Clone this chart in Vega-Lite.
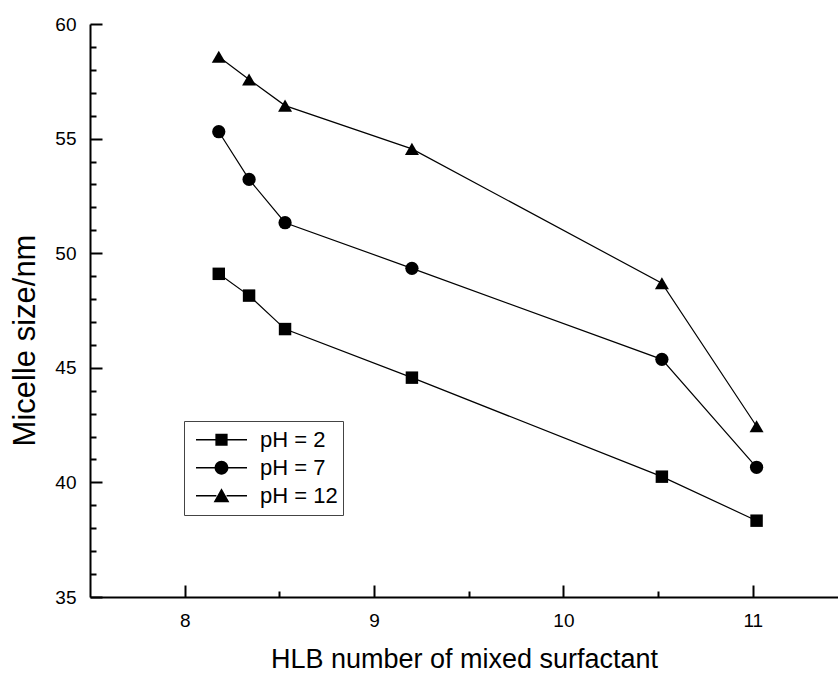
{
  "$schema": "https://vega.github.io/schema/vega-lite/v6.json",
  "width": 748,
  "height": 573,
  "autosize": {"type": "none"},
  "padding": {"left": 90, "top": 24, "right": 0, "bottom": 76},
  "background": "white",
  "config": {
    "view": {"stroke": null},
    "font": "Liberation Sans",
    "axis": {
      "grid": false,
      "ticks": true,
      "domainColor": "black",
      "domainWidth": 2,
      "tickColor": "black",
      "tickOpacity": 1,
      "tickWidth": 2,
      "labelColor": "black",
      "labelFontSize": 19,
      "labelFont": "Liberation Sans",
      "titleFont": "Liberation Sans",
      "titleFontSize": 27,
      "titleFontWeight": "normal",
      "titleColor": "black"
    }
  },
  "data": {
    "values": [
      {"series": "pH = 2", "x": 8.18, "y": 49.1},
      {"series": "pH = 2", "x": 8.34, "y": 48.15},
      {"series": "pH = 2", "x": 8.53, "y": 46.69},
      {"series": "pH = 2", "x": 9.2, "y": 44.57},
      {"series": "pH = 2", "x": 10.52, "y": 40.25},
      {"series": "pH = 2", "x": 11.02, "y": 38.33},
      {"series": "pH = 7", "x": 8.18, "y": 55.3},
      {"series": "pH = 7", "x": 8.34, "y": 53.22},
      {"series": "pH = 7", "x": 8.53, "y": 51.33},
      {"series": "pH = 7", "x": 9.2, "y": 49.34},
      {"series": "pH = 7", "x": 10.52, "y": 45.37},
      {"series": "pH = 7", "x": 11.02, "y": 40.66},
      {"series": "pH = 12", "x": 8.18, "y": 58.57},
      {"series": "pH = 12", "x": 8.34, "y": 57.58},
      {"series": "pH = 12", "x": 8.53, "y": 56.44},
      {"series": "pH = 12", "x": 9.2, "y": 54.55},
      {"series": "pH = 12", "x": 10.52, "y": 48.69},
      {"series": "pH = 12", "x": 11.02, "y": 42.45}
    ]
  },
  "layer": [
    {
      "mark": {"type": "line", "color": "black", "strokeWidth": 1.2},
      "encoding": {
        "x": {
          "field": "x", "type": "quantitative",
          "scale": {"domain": [7.5, 11.45], "nice": false, "zero": false},
          "axis": {
            "orient": "bottom",
            "title": "HLB number of mixed surfactant",
            "values": [8, 9, 10, 11],
            "format": "d",
            "ticks": true,
            "tickSize": -12,
            "labelPadding": 26,
            "labelFlush": false,
            "titleBaseline": "alphabetic",
            "titleY": 70
          }
        },
        "y": {
          "field": "y", "type": "quantitative",
          "scale": {"domain": [35, 60], "nice": false, "zero": false},
          "axis": {
            "orient": "left",
            "title": "Micelle size/nm",
            "titleFontSize": 31,
            "values": [35, 40, 45, 50, 55, 60],
            "ticks": true,
            "tickSize": -12,
            "labelPadding": 26,
            "labelFlush": false,
            "titleBaseline": "alphabetic",
            "titleX": -56,
            "titleY": 316
          }
        },
        "detail": {"field": "series"}
      }
    },
    {
      "mark": {"type": "point", "filled": true, "color": "black", "opacity": 1},
      "encoding": {
        "x": {"field": "x", "type": "quantitative", "axis": null},
        "y": {"field": "y", "type": "quantitative", "axis": null},
        "shape": {
          "field": "series", "type": "nominal",
          "scale": {"domain": ["pH = 2", "pH = 7", "pH = 12"], "range": ["square", "circle", "triangle-up"]},
          "legend": null
        },
        "size": {
          "field": "series", "type": "nominal",
          "scale": {"domain": ["pH = 2", "pH = 7", "pH = 12"], "range": [155, 196, 256]},
          "legend": null
        }
      }
    },
    {
      "transform": [{"filter": "datum.x < 0"}],
      "mark": {"type": "point", "filled": true, "color": "black", "opacity": 1},
      "encoding": {
        "x": {"field": "x", "type": "quantitative", "axis": null},
        "y": {"field": "y", "type": "quantitative", "axis": null},
        "shape": {
          "field": "series", "type": "nominal",
          "scale": {
            "domain": ["pH = 2", "pH = 7", "pH = 12"],
            "range": [
              "M-1,-0.025H-0.2V0.025H-1Z M0.2,-0.025H1V0.025H0.2Z M-0.24,-0.24H0.24V0.24H-0.24Z",
              "M-1,-0.025H-0.2V0.025H-1Z M0.2,-0.025H1V0.025H0.2Z M-0.27,0A0.27,0.27 0 1,1 0.27,0A0.27,0.27 0 1,1 -0.27,0Z",
              "M-1,-0.025H-0.2V0.025H-1Z M0.2,-0.025H1V0.025H0.2Z M0,-0.29L0.31,0.25L-0.31,0.25Z"
            ]
          },
          "legend": {
            "orient": "none",
            "legendX": 94,
            "legendY": 397,
            "title": null,
            "symbolSize": 2601,
            "symbolFillColor": "black",
            "symbolStrokeWidth": 0,
            "symbolOpacity": 1,
            "symbolOffset": 7,
            "clipHeight": 27.5,
            "labelFontSize": 22,
            "labelFont": "Liberation Sans",
            "labelColor": "black",
            "labelOffset": 13,
            "strokeColor": "#444",
            "fillColor": "white",
            "padding": 5,
            "rowPadding": 0,
            "symbolLimit": 0,
            "encode": {"legend": {"update": {"strokeWidth": {"value": 1.5}}}}
          }
        }
      }
    },
    {
      "transform": [{"filter": "datum.x < 0"}],
      "mark": {"type": "point", "opacity": 0},
      "encoding": {
        "x": {
          "field": "x", "type": "quantitative",
          "axis": {
            "orient": "bottom",
            "values": [8.5, 9.5, 10.5],
            "labels": false,
            "domain": false,
            "ticks": true,
            "tickSize": -6,
            "title": null
          }
        },
        "y": {
          "field": "y", "type": "quantitative",
          "axis": {
            "orient": "left",
            "values": [36, 37, 38, 39, 41, 42, 43, 44, 46, 47, 48, 49, 51, 52, 53, 54, 56, 57, 58, 59],
            "labels": false,
            "domain": false,
            "ticks": true,
            "tickSize": -6,
            "title": null
          }
        }
      }
    }
  ],
  "resolve": {
    "scale": {"shape": "independent"},
    "axis": {"x": "independent", "y": "independent"}
  }
}
